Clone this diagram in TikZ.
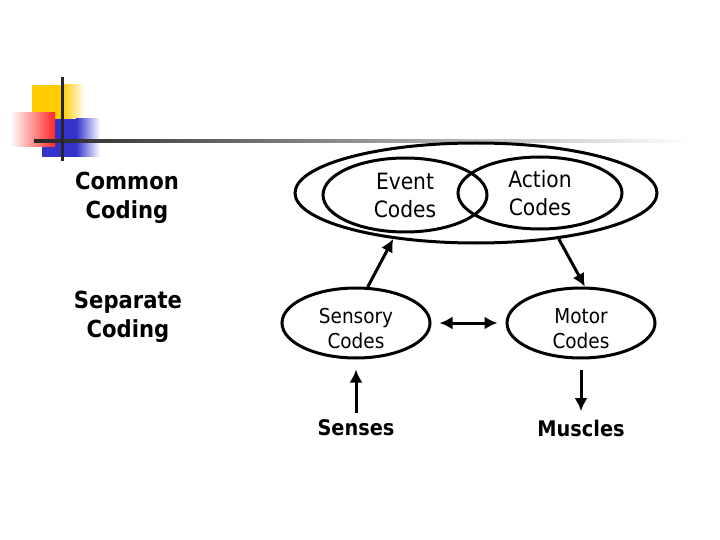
\documentclass[tikz,border=0pt]{standalone}
\usepackage{fontspec}
\setmainfont{DejaVu Sans Condensed}
\usepackage{tikz}
\usepackage{xcolor}
\usetikzlibrary{arrows.meta}
\usetikzlibrary{shapes.geometric}

\definecolor{logoyellow}{RGB}{255,204,0}
\definecolor{logored}{RGB}{255,40,40}
\definecolor{logoblue}{RGB}{51,51,204}

\tikzset{
    codes/.style={draw, ellipse, line width=3pt, inner sep=0pt, align=center,
        font=\fontsize{22.5}{28}\selectfont},
    lowtext/.style={align=center, yshift=-6pt, font=\fontsize{20.5}{25}\selectfont},
    heading/.style={align=center, font=\bfseries\fontsize{23.5}{29}\selectfont},
    flow/.style={line width=3pt, -{Latex[length=13pt,width=13pt]}}
}

\begin{document}
\begin{tikzpicture}[x=1pt, y=-1pt]
        \useasboundingbox (0,0) rectangle (720,540);

        % corner logo
        \fill[logoyellow] (32,85) rectangle (62,119);
        \shade[left color=logoyellow, right color=white] (62,85) rectangle (85,119);
        \fill[logoblue] (42,119) rectangle (76,157);
        \shade[left color=logoblue, right color=white] (76,119) rectangle (100,157);
        \shade[shading=axis, shading angle=60, left color=white, right color=logored] (10,113) rectangle (55,147);
        \shade[left color=black!85, right color=white] (34,139.5) rectangle (690,142.5);
        \fill[black!85] (60.5,77) rectangle (63.5,161);

        \node[heading] (common) at (127,198) {Common\\Coding};
        \node[heading] (separate) at (128,317) {Separate\\Coding};

        \node[codes, minimum width=362pt, minimum height=100pt] (outer) at (476,193) {};
        \node[codes, minimum width=164pt, minimum height=74pt] (event) at (405,195) {Event\\Codes};
        \node[codes, minimum width=164pt, minimum height=72pt] (action) at (540,193) {Action\\Codes};

        \node[codes, minimum width=148pt, minimum height=70pt,
            label={[lowtext]center:{Sensory\\Codes}}] (sensory) at (356,323) {};
        \node[codes, minimum width=148pt, minimum height=70pt,
            label={[lowtext]center:{Motor\\Codes}}] (motor) at (581,323) {};

        \node[heading, font=\bfseries\fontsize{21.5}{26}\selectfont] (senses) at (356,428) {Senses};
        \node[heading, font=\bfseries\fontsize{21.5}{26}\selectfont] (muscles) at (581,428) {Muscles};

        \draw[flow] (sensory.72) -- (outer.-151);
        \draw[flow] (outer.-29) -- (motor.84);
        \draw[flow, {Latex[length=13pt,width=13pt]}-{Latex[length=13pt,width=13pt]}, shorten <=8pt, shorten >=8pt] (sensory.east) -- (motor.west);
        \draw[flow, shorten <=3pt, shorten >=10pt] (senses.north) -- (sensory.south);
        \draw[flow, shorten <=10pt, shorten >=5pt] (motor.south) -- (muscles.north);
    \end{tikzpicture}
\end{document}
